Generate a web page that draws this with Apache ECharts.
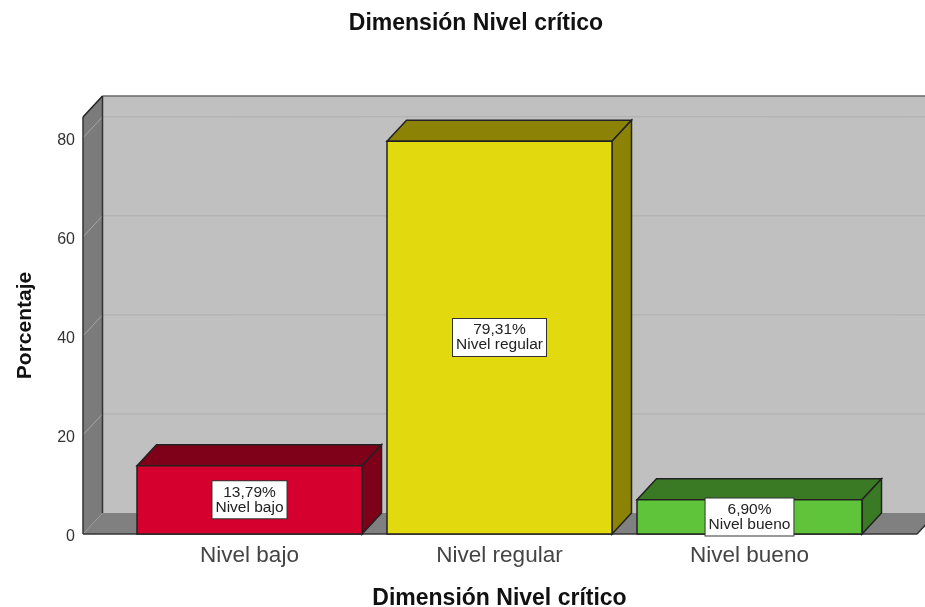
<!DOCTYPE html>
<html>
<head>
<meta charset="utf-8">
<style>html,body{margin:0;padding:0;background:#fff}#c{width:925px;height:607px}</style>
<script src="https://cdn.jsdelivr.net/npm/echarts@6/dist/echarts.min.js"></script>
</head>
<body>
<div id="c"></div>
<script>
var categories = ['Nivel bajo', 'Nivel regular', 'Nivel bueno'];
var values = [13.79, 79.31, 6.90];
var valueLabels = ['13,79%', '79,31%', '6,90%'];
var yTicks = [0, 20, 40, 60, 80];
var yMax = 84.2;
var frontColors = ['#d5002d', '#e3d90f', '#5fc439'];
var sideColors = ['#7e0019', '#8c8306', '#3b7a24'];
var chartTitle = 'Dimensión Nivel crítico';
var xName = 'Dimensión Nivel crítico';
var yName = 'Porcentaje';

var FONT = '"Liberation Sans", Arial, sans-serif';
var DX = 19.5, DY = 21;      // depth of the 3D projection
var LEFT_EXT = 41.5, RIGHT_EXT = 42.5; // walls reach past the category band
var EDGE = '#222222';

function poly(points, fill, stroke, lw) {
  return {
    type: 'polygon',
    shape: { points: points },
    style: { fill: fill, stroke: stroke || null, lineWidth: lw || 0 }
  };
}
function line(x1, y1, x2, y2, color, lw) {
  return {
    type: 'line',
    shape: { x1: x1, y1: y1, x2: x2, y2: y2 },
    style: { stroke: color, lineWidth: lw, fill: null }
  };
}

function renderWalls(params, api) {
  var cs = params.coordSys;
  var x0 = cs.x - LEFT_EXT, x1 = cs.x + cs.width + RIGHT_EXT;
  var b = api.coord([0, 0])[1], t = api.coord([0, yMax])[1];
  return {
    type: 'group',
    children: [
      poly([[x0 + DX, t - DY], [x1 + DX, t - DY], [x1 + DX, b - DY], [x0 + DX, b - DY]], '#c0c0c0'),
      poly([[x0, t], [x0 + DX, t - DY], [x0 + DX, b - DY], [x0, b]], '#7b7b7b'),
      poly([[x0, b], [x0 + DX, b - DY], [x1 + DX, b - DY], [x1, b]], '#808080'),
      line(x0 + DX, t - DY, x1 + DX, t - DY, '#6a6a6a', 1.5)
    ]
  };
}

function renderGrid(params, api) {
  var cs = params.coordSys;
  var x0 = cs.x - LEFT_EXT, x1 = cs.x + cs.width + RIGHT_EXT;
  var y = api.coord([0, api.value(0)])[1];
  if (api.value(0) === 0) return { type: 'group', children: [] };
  return {
    type: 'group',
    children: [
      line(x0, y, x0 + DX, y - DY, '#a6a6a6', 1),
      line(x0 + DX, y - DY, x1 + DX, y - DY, '#aeaeae', 1)
    ]
  };
}

function renderEdges(params, api) {
  var cs = params.coordSys;
  var x0 = cs.x - LEFT_EXT, x1 = cs.x + cs.width + RIGHT_EXT;
  var b = api.coord([0, 0])[1], t = api.coord([0, yMax])[1];
  return {
    type: 'group',
    children: [
      line(x0 + DX, t - DY, x0 + DX, b - DY, '#333333', 1.5),
      line(x0, t, x0, b, '#333333', 1.5),
      line(x0, t, x0 + DX, t - DY, '#222222', 1.5),
      line(x0, b, x1, b, '#333333', 1.5),
      line(x1, b, x1 + DX, b - DY, '#333333', 1.5)
    ]
  };
}

function renderBar(params, api) {
  var idx = api.value(0), val = api.value(1);
  var w = api.size([1, 0])[0] * 0.9;
  var c = api.coord([idx, val]);
  var base = api.coord([idx, 0]);
  var l = c[0] - w / 2, r = c[0] + w / 2, t = c[1], b = base[1];
  var front = frontColors[idx], side = sideColors[idx];
  return {
    type: 'group',
    children: [
      poly([[l, t], [l + DX, t - DY], [r + DX, t - DY], [r, t]], side, EDGE, 1.5),
      poly([[r, t], [r + DX, t - DY], [r + DX, b - DY], [r, b]], side, EDGE, 1.5),
      poly([[l, t], [r, t], [r, b], [l, b]], front, EDGE, 1.5)
    ]
  };
}

function renderLabel(params, api) {
  var idx = api.value(0), val = api.value(1);
  var mid = api.coord([idx, val / 2]);
  return {
    type: 'text',
    x: mid[0],
    y: mid[1],
    style: {
      text: valueLabels[idx] + '\n' + categories[idx],
      x: 0,
      y: 0,
      align: 'center',
      verticalAlign: 'middle',
      fill: '#222222',
      font: '15.5px ' + FONT,
      lineHeight: 15,
      backgroundColor: '#ffffff',
      borderColor: '#333333',
      borderWidth: 1,
      padding: [4, 3, 3, 3]
    }
  };
}

var barData = values.map(function (v, i) { return [i, v]; });

var chart = echarts.init(document.getElementById('c'), null, { renderer: 'canvas' });
chart.setOption({
  animation: false,
  backgroundColor: '#ffffff',
  title: {
    text: chartTitle,
    left: 471,
    top: 7,
    textAlign: 'center',
    textStyle: { fontFamily: FONT, fontWeight: 'bold', fontSize: 23, color: '#111111' }
  },
  grid: { left: 124.5, width: 750, top: 117, bottom: 73, outerBoundsMode: 'none' },
  xAxis: {
    type: 'category',
    data: categories,
    axisLine: { show: false },
    axisTick: { show: false },
    axisLabel: { fontFamily: FONT, fontSize: 22.5, color: '#444444', margin: 10 },
    name: xName,
    nameLocation: 'middle',
    nameGap: 53,
    nameTextStyle: { fontFamily: FONT, fontWeight: 'bold', fontSize: 23, color: '#111111' }
  },
  yAxis: {
    type: 'value',
    min: 0,
    max: yMax,
    interval: 20,
    offset: LEFT_EXT,
    splitLine: { show: false },
    axisLine: { show: false },
    axisTick: { show: false },
    axisLabel: {
      fontFamily: FONT, fontSize: 16, color: '#333333', margin: 8,
      verticalAlign: 'top',
      lineHeight: 6,
      showMaxLabel: false
    },
    name: yName,
    nameLocation: 'middle',
    nameGap: 47,
    nameTextStyle: { fontFamily: FONT, fontWeight: 'bold', fontSize: 21, color: '#111111' }
  },
  series: [
    { type: 'custom', silent: true, z: 1, renderItem: renderWalls, data: [[0]], encode: { y: 0 } },
    { type: 'custom', silent: true, z: 2, renderItem: renderGrid, data: yTicks.map(function (t) { return [t]; }), encode: { y: 0 } },
    { type: 'custom', silent: true, z: 3, renderItem: renderEdges, data: [[0]], encode: { y: 0 } },
    { type: 'custom', silent: true, z: 4, renderItem: renderBar, data: barData, encode: { x: 0, y: 1 } },
    { type: 'custom', silent: true, z: 5, renderItem: renderLabel, data: barData, encode: { x: 0, y: 1 } }
  ]
});
</script>
</body>
</html>
